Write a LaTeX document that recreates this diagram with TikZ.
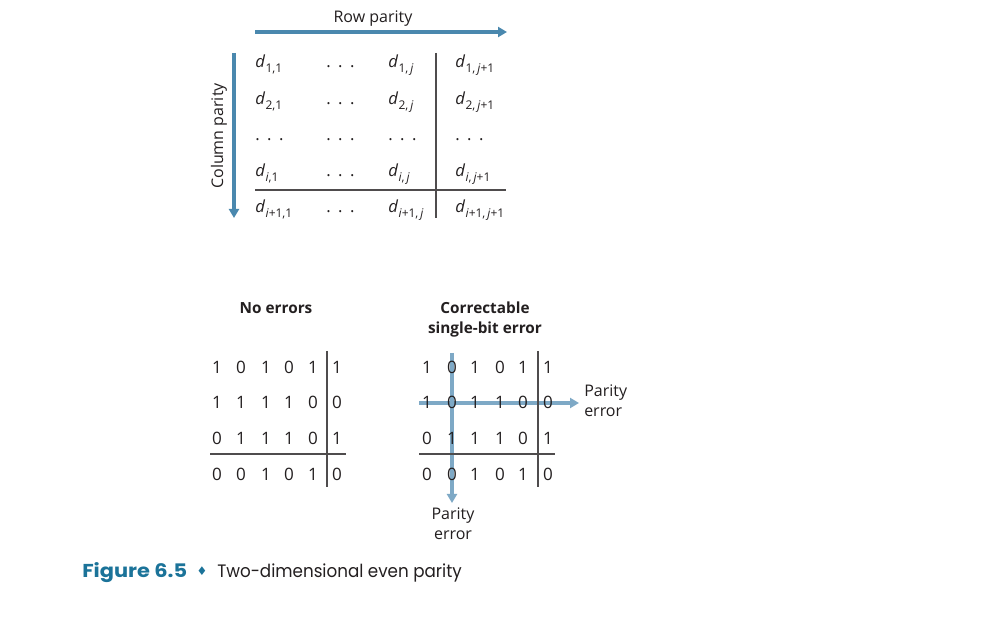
\documentclass[tikz,border=0pt]{standalone}
\usepackage{fontspec}
\setmainfont{Open Sans}
\newfontfamily\capfont{Poppins}
\newfontfamily\symfont{DejaVu Sans}
\usetikzlibrary{arrows.meta}
\definecolor{topblue}{HTML}{4A88AE}
\definecolor{lightblue}{HTML}{7EA9C6}
\definecolor{ink}{HTML}{231F20}
\definecolor{figblue}{HTML}{1B7399}
\newcommand\dsub[1]{\textit{d}\kern0.3pt\raisebox{-0.5ex}{\fontsize{9}{10}\selectfont #1}}
\newcommand\mydots{.\hspace{0.45em}.\hspace{0.45em}.}
\tikzset{
  lbl/.style={inner sep=0, text=ink, font=\fontsize{12}{15}\selectfont},
  dcell/.style={inner sep=0, anchor=base west, text=ink, font=\fontsize{12.5}{14}\selectfont},
  bit/.style={inner sep=0, anchor=base, text=ink, font=\fontsize{12.8}{14}\selectfont},
  rule/.style={draw=ink!80, line width=0.8pt},
  bigarrow/.style={draw=topblue, line width=3pt, -{Triangle[length=6.75pt,width=7.5pt]}},
  errarrow/.style={draw=lightblue, line width=3.4pt, -{Triangle[length=6.75pt,width=7.5pt]}},
}
\begin{document}
\begin{tikzpicture}[x=0.75pt,y=-0.75pt]
\useasboundingbox[fill=white] (0,0) rectangle (982,634);
% ---- top general scheme ----
\node[lbl, anchor=base] (rowlbl) at (373,23) {Row parity};
\coordinate (ra1) at (255,32);
\coordinate (ra2) at (507,32);
\draw[bigarrow] (ra1) -- (ra2);
\node[lbl, rotate=90] (collbl) at (219,136) {Column parity};
\coordinate (ca1) at (234,53);
\coordinate (ca2) at (234,218);
\draw[bigarrow] (ca1) -- (ca2);
% cells
\node[dcell] (d11) at (255,68) {\dsub{1,1}};
\node[dcell] (d12) at (326,68) {\mydots};
\node[dcell] (d13) at (388,68) {\dsub{1,\,\textit{j}}};
\node[dcell] (d14) at (455,68) {\dsub{1,\,\textit{j}+1}};
\node[dcell] (d21) at (255,105) {\dsub{2,1}};
\node[dcell] (d22) at (326,105) {\mydots};
\node[dcell] (d23) at (388,105) {\dsub{2,\,\textit{j}}};
\node[dcell] (d24) at (455,105) {\dsub{2,\,\textit{j}+1}};
\node[dcell] (d31) at (255,141) {\mydots};
\node[dcell] (d32) at (326,141) {\mydots};
\node[dcell] (d33) at (388,141) {\mydots};
\node[dcell] (d34) at (455,141) {\mydots};
\node[dcell] (d41) at (255,177) {\dsub{\textit{i},1}};
\node[dcell] (d42) at (326,177) {\mydots};
\node[dcell] (d43) at (388,177) {\dsub{\textit{i},\,\textit{j}}};
\node[dcell] (d44) at (455,177) {\dsub{\textit{i},\,\textit{j}+1}};
\node[dcell] (d51) at (255,213) {\dsub{\textit{i}+1,1}};
\node[dcell] (d52) at (326,213) {\mydots};
\node[dcell] (d53) at (388,213) {\dsub{\textit{i}+1,\,\textit{j}}};
\node[dcell] (d54) at (455,213) {\dsub{\textit{i}+1,\,\textit{j}+1}};
\coordinate (tv1) at (436,53);
\coordinate (tv2) at (436,218);
\draw[rule] (tv1) -- (tv2);
\coordinate (th1) at (255,190);
\coordinate (th2) at (506,190);
\draw[rule] (th1) -- (th2);
% ---- bottom left: no errors ----
\node[lbl, anchor=base, font=\bfseries\fontsize{11.5}{15}\selectfont] (noerr) at (276,314) {No errors};
\foreach \r/\y/\bits in {1/374/{1,0,1,0,1,1},2/409/{1,1,1,1,0,0},3/445/{0,1,1,1,0,1},4/480/{0,0,1,0,1,0}}{
  \foreach \b [count=\c] in \bits {
    \pgfmathsetmacro\xx{{217,241,266,289,313,337}[\c-1]}
    \node[bit] (L\r\c) at (\xx,\y) {\b};
  }
}
\coordinate (lv1) at (327,351);
\coordinate (lv2) at (327,487);
\draw[rule] (lv1) -- (lv2);
\coordinate (lh1) at (210,454);
\coordinate (lh2) at (346,454);
\draw[rule] (lh1) -- (lh2);
% ---- bottom right: correctable error ----
\node[lbl, align=center, font=\bfseries\fontsize{11.5}{15}\selectfont] (corr) at (485,320) {Correctable\\single-bit error};
\coordinate (eh1) at (419,403);
\coordinate (eh2) at (579,403);
\coordinate (ev1) at (452,353);
\coordinate (ev2) at (452,503);
\draw[errarrow] (eh1) -- (eh2);
\draw[errarrow] (ev1) -- (ev2);
\foreach \r/\y/\bits in {1/374/{1,0,1,0,1,1},2/409/{1,0,1,1,0,0},3/445/{0,1,1,1,0,1},4/480/{0,0,1,0,1,0}}{
  \foreach \b [count=\c] in \bits {
    \pgfmathsetmacro\xx{{427,452,475,500,523,548}[\c-1]}
    \node[bit] (R\r\c) at (\xx,\y) {\b};
  }
}
\coordinate (rv1) at (538,351);
\coordinate (rv2) at (538,487);
\draw[rule] (rv1) -- (rv2);
\coordinate (rh1) at (419,454);
\coordinate (rh2) at (555,454);
\draw[rule] (rh1) -- (rh2);
\node[lbl, align=left, anchor=west] (perr1) at (584,401) {Parity\\error};
\node[lbl, align=center, anchor=north] (perr2) at (453,507) {Parity\\error};
% ---- caption ----
\node[inner sep=0, anchor=base west, text=figblue, font=\capfont\bfseries\fontsize{14}{16}\selectfont\addfontfeatures{FakeStretch=1.12}] (figno) at (82,577) {Figure 6.5};
\node[inner sep=0, anchor=base, text=figblue, font=\symfont\fontsize{9}{10}\selectfont] (diam) at (202,575) {♦};
\node[inner sep=0, anchor=base west, text=ink, font=\capfont\fontsize{13.5}{16}\selectfont\addfontfeatures{FakeStretch=0.93}] (figtxt) at (217,577) {Two-dimensional even parity};
\end{tikzpicture}
\end{document}
